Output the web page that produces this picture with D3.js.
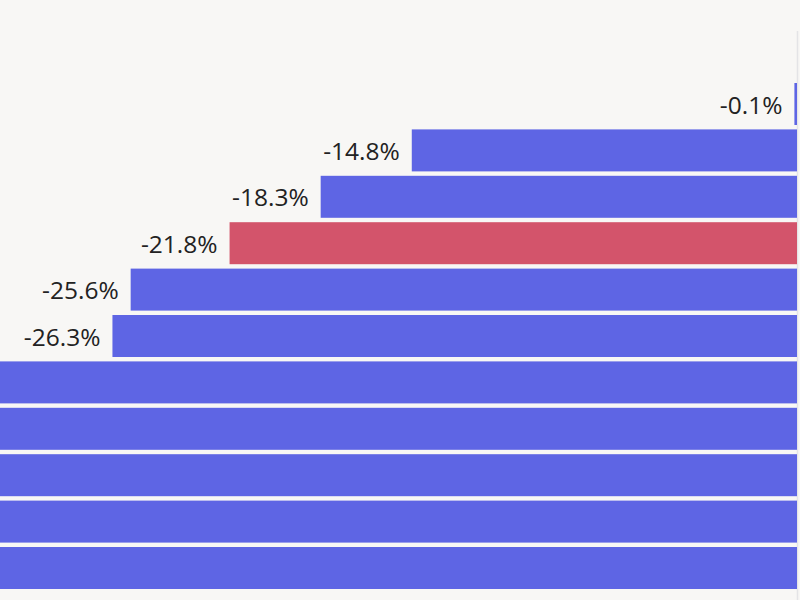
<!DOCTYPE html>
<html>
<head>
<meta charset="utf-8">
<script src="https://cdn.jsdelivr.net/npm/d3@7"></script>
<style>
  html, body { margin: 0; padding: 0; background: #f8f7f5; overflow: hidden; }
  svg { display: block; }
</style>
</head>
<body>
<svg id="chart"></svg>
<script>
// values (the last five run past the left edge, guessed)
var rows = ["r1", "r2", "r3", "r4", "r5", "r6", "r7", "r8", "r9", "r10", "r11"];
var values = [-0.1, -14.8, -18.3, -21.8, -25.6, -26.3, -33.5, -38.2, -41.7, -45.9, -52.4];
var highlight = ["r4"];

var width = 800, height = 600;
var svg = d3.select("#chart")
  .attr("width", width)
  .attr("height", height);

// 0 sits at the right edge, ~26px per percent point
var x = d3.scaleLinear().domain([-30.62, 0]).range([0, 797]);
var y = d3.scaleBand().domain(rows).range([80.8, 591.2])
  .paddingInner(0.095).paddingOuter(0.0475);

var data = rows.map((r, i) => ({ row: r, value: values[i] }));

// faint zero line
svg.append("line")
  .attr("x1", x(0) + 0.5).attr("x2", x(0) + 0.5)
  .attr("y1", 31).attr("y2", height)
  .attr("stroke", "#e4e4e6")
  .attr("stroke-width", 1.5);

svg.selectAll(".bar")
  .data(data)
  .enter()
  .append("rect")
  .attr("class", "bar")
  .attr("x", d => x(d.value))
  .attr("y", d => y(d.row))
  .attr("width", d => x(0) - x(d.value))
  .attr("height", y.bandwidth())
  .attr("fill", d => highlight.includes(d.row) ? "#d3546b" : "#5e65e4");

// labels only where the bar starts inside the view (others fall off the left)
svg.selectAll(".label")
  .data(data.filter(d => x(d.value) > 0))
  .enter()
  .append("text")
  .attr("class", "label")
  .attr("x", d => x(d.value) - 12)
  .attr("y", d => y(d.row) + y.bandwidth() / 2)
  .attr("text-anchor", "end")
  .attr("dominant-baseline", "central")
  .attr("font-family", "'Open Sans', sans-serif")
  .attr("font-size", 24.5)
  .attr("fill", "#222")
  .text(d => d.value.toFixed(1) + "%");
</script>
</body>
</html>
